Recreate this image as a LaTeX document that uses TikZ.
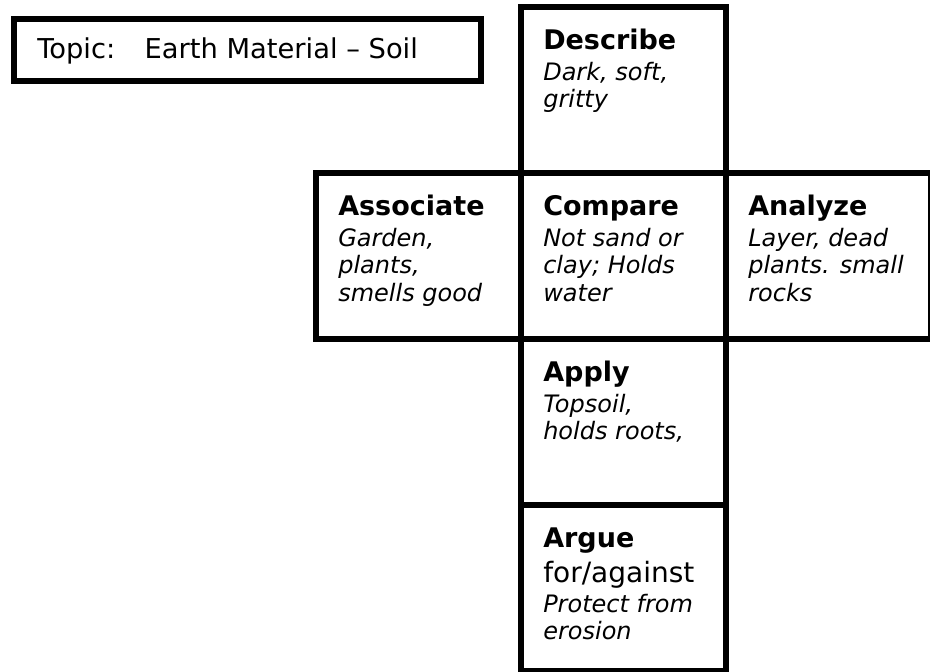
\documentclass[tikz,border=0pt]{standalone}
\usepackage{fontspec}
\setmainfont{DejaVu Sans}
\usetikzlibrary{calc,positioning}
\tikzset{
  face box/.style  = {draw, line width=4.2pt, inner sep=0pt, outer sep=0pt,
    minimum width=153.75pt, minimum height=124.5pt},
  face text/.style = {anchor=north west, align=left, inner sep=0pt,
    font=\fontsize{18}{20.6}\selectfont\itshape},
  topic box/.style = {draw, line width=4.2pt, inner sep=0pt, outer sep=0pt,
    minimum width=350.25pt, minimum height=46.5pt},
  topic text/.style = {anchor=base west, inner sep=0pt,
    font=\fontsize{20.5}{24}\selectfont}
}
% heading with a fixed 16pt top, so that every face starts alike
\newcommand\head[1]{{\fontsize{20.25}{20.6}\selectfont\upshape\bfseries\rule{0pt}{16pt}#1}}
\newcommand\plain[1]{{\fontsize{21}{20.6}\selectfont\upshape #1}}

\begin{document}
\begin{tikzpicture}[x=0.75pt,y=-0.75pt]
\useasboundingbox (0,0) rectangle (930,671);
% one face of the cube: name, top left corner, text
\def\face#1(#2)#3<#4,#5>#6;{
	\node[face box] (#2) at (#4+102.5,#5+83) {};
	\node[face text] (#2_text) at ($(#2.north west)+(22,20.67)$) {#6};
}
%---------------------------------------------
\node[topic box] (topic) at (247.5,50) {};
\node[topic text] (topic_text) at ($(topic.west)+(23,8)$) {Topic:\hspace{22pt}Earth Material – Soil};

\face (describe) <521,7>{\head{Describe}\\[2.6pt] Dark, soft,\\ gritty};
\face (associate) <316,173>{\head{Associate}\\[2.6pt] Garden,\\ plants,\\ smells good};
\face (compare) <521,173>{\head{Compare}\\[2.6pt] Not sand or\\ clay; Holds\\ water};
\face (analyze) <726,173>{\head{Analyze}\\[2.6pt] Layer, dead\\ plants. small\\ rocks};
\face (apply) <521,339>{\head{Apply}\\[2.6pt] Topsoil,\\ holds roots,};
\face (argue) <521,505>{\head{Argue}\\[5.6pt] \plain{for/against}\\[1.9pt] Protect from\\ erosion};

\end{tikzpicture}
\end{document}
